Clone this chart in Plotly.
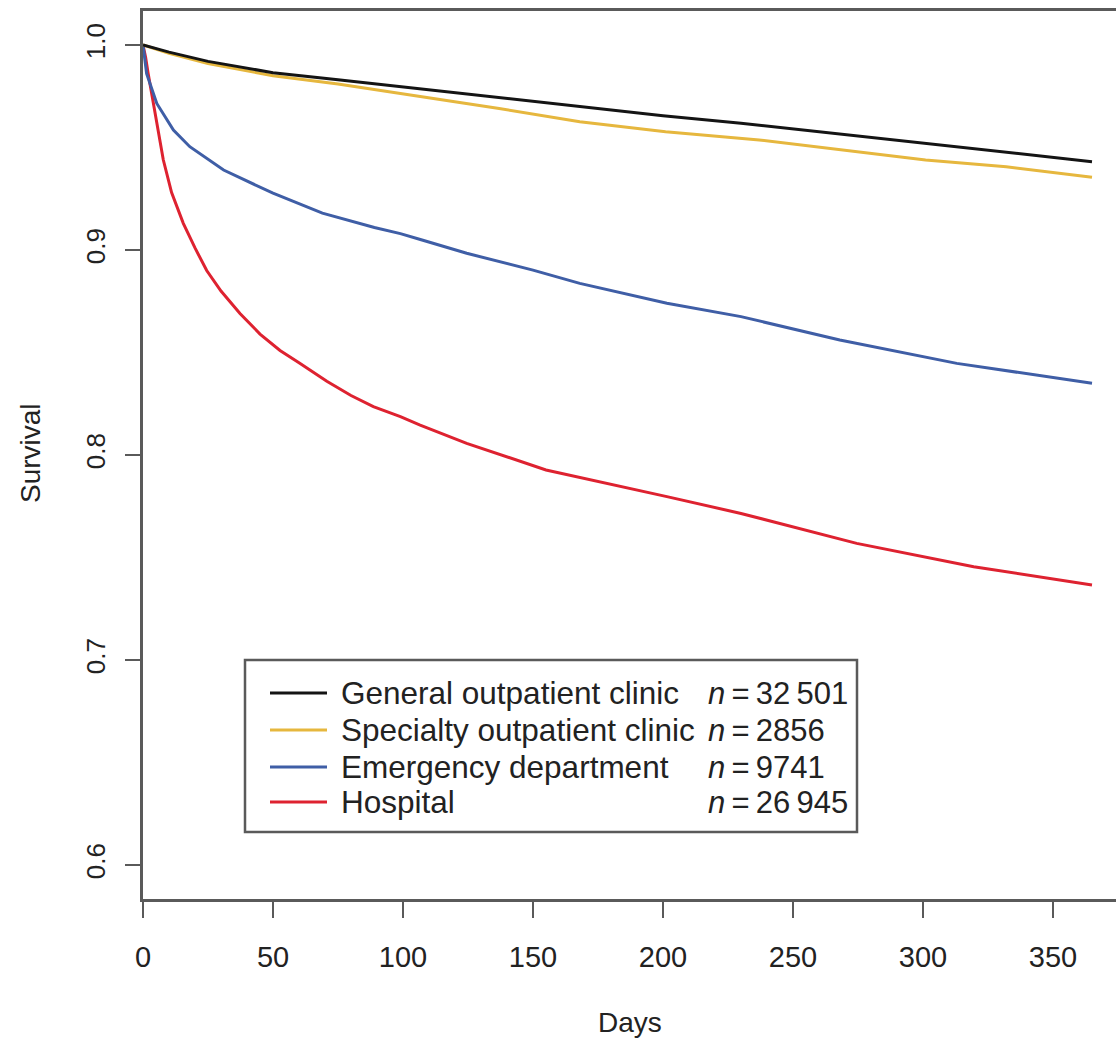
import plotly.graph_objects as go

# Kaplan-Meier style survival estimates by place of first contact
general_days = [0, 10, 25, 50, 75, 100, 130, 168, 200, 230, 265, 294, 330, 365]
general_surv = [1.0, 0.9965, 0.992, 0.9865, 0.983, 0.9795, 0.975, 0.970, 0.9655,
                0.9618, 0.957, 0.9528, 0.948, 0.9431]

specialty_days = [0, 10, 25, 50, 75, 99, 120, 137, 168, 185, 201, 237, 268, 301, 332, 365]
specialty_surv = [1.0, 0.996, 0.991, 0.985, 0.981, 0.9764, 0.9725, 0.969, 0.9626,
                  0.960, 0.9577, 0.9537, 0.9488, 0.9439, 0.9406, 0.9355]

emergency_days = [0, 1.4, 5.3, 11.7, 18, 31, 50, 69, 89, 99, 107, 124.5, 150, 168,
                  201.5, 230, 268, 313, 365]
emergency_surv = [1.0, 0.986, 0.9715, 0.9585, 0.9504, 0.939, 0.9277, 0.918, 0.911,
                  0.908, 0.905, 0.8984, 0.8902, 0.8837, 0.874, 0.8675, 0.8561, 0.8447,
                  0.835]

hospital_days = [0, 1, 2, 4, 7.8, 11, 15.5, 20, 24.5, 30, 37.3, 45, 52.7, 60, 70.7, 80,
                 88.6, 99, 106.6, 124.5, 155, 201.5, 230, 274.5, 319.5, 365]
hospital_surv = [1.0, 0.994, 0.986, 0.972, 0.944, 0.928, 0.913, 0.901, 0.890, 0.880,
                 0.869, 0.859, 0.851, 0.845, 0.836, 0.829, 0.8236, 0.8187, 0.8146,
                 0.8057, 0.7927, 0.7797, 0.7715, 0.7569, 0.7455, 0.7366]

series_names = ["General outpatient clinic", "Specialty outpatient clinic",
                "Emergency department", "Hospital"]
series_n = ["32\u2009501", "2856", "9741", "26\u2009945"]
series_colors = ["#141414", "#E6B73E", "#3F5EA6", "#DE2230"]

x_ticks = [0, 50, 100, 150, 200, 250, 300, 350]
y_ticks = [0.6, 0.7, 0.8, 0.9, 1.0]

FONT = "Liberation Sans, Arial, Helvetica, sans-serif"
TXT = "#222222"
AXIS = "#5a5a5a"

W, H = 1116, 1039
L, R, T, B = 143, 0, 11, 140
PW, PH = W - L - R, H - T - B


def px(xp):
    return (xp - L) / PW


def py(yp):
    return (H - B - yp) / PH


fig = go.Figure()
all_days = [general_days, specialty_days, emergency_days, hospital_days]
all_surv = [general_surv, specialty_surv, emergency_surv, hospital_surv]
# draw hospital first so the lighter curves stay on top where they meet
for i in [3, 2, 1, 0]:
    fig.add_trace(go.Scatter(
        x=all_days[i], y=all_surv[i], mode="lines", name=series_names[i],
        line=dict(color=series_colors[i], width=3), showlegend=False,
    ))

shapes = []
annotations = []

# legend box drawn by hand so the n= column lines up
shapes.append(dict(type="rect", xref="paper", yref="paper",
                   x0=px(245), x1=px(857), y0=py(832), y1=py(660),
                   line=dict(color=AXIS, width=2.5), fillcolor="white", layer="above"))
row_y = [693, 730, 767, 802]
for i in range(4):
    shapes.append(dict(type="line", xref="paper", yref="paper",
                       x0=px(270), x1=px(327), y0=py(row_y[i]), y1=py(row_y[i]),
                       line=dict(color=series_colors[i], width=3), layer="above"))
    annotations.append(dict(xref="paper", yref="paper", x=px(339), y=py(row_y[i]),
                            xanchor="left", yanchor="middle", showarrow=False,
                            text=series_names[i],
                            font=dict(family=FONT, size=31.5, color=TXT)))
    annotations.append(dict(xref="paper", yref="paper", x=px(706), y=py(row_y[i]),
                            xanchor="left", yanchor="middle", showarrow=False,
                            text="<i>n</i>\u2009=\u2009" + series_n[i],
                            font=dict(family=FONT, size=31, color=TXT)))

# axis titles
annotations.append(dict(xref="paper", yref="paper", x=px(630), y=py(1022),
                        xanchor="center", yanchor="middle", showarrow=False,
                        text="Days", font=dict(family=FONT, size=28, color=TXT)))
annotations.append(dict(xref="paper", yref="paper", x=px(30), y=py(453),
                        xanchor="center", yanchor="middle", showarrow=False,
                        textangle=-90, text="Survival",
                        font=dict(family=FONT, size=28, color=TXT)))

fig.update_layout(
    width=W, height=H,
    margin=dict(l=L, r=R, t=T, b=B, pad=0),
    paper_bgcolor="white", plot_bgcolor="white",
    shapes=shapes, annotations=annotations,
    xaxis=dict(range=[0, PW / 2.6], tickvals=x_ticks, ticktext=[str(v) for v in x_ticks],
               showgrid=False, zeroline=False, showline=True, mirror=True,
               linecolor=AXIS, linewidth=2.5, ticks="outside", ticklen=16,
               tickwidth=2, tickcolor=AXIS, ticklabelstandoff=14,
               tickfont=dict(family=FONT, size=29, color=TXT)),
    yaxis=dict(range=[1 - (H - B - 45) / 2050, 1 + (45 - T) / 2050],
               tickvals=y_ticks, ticktext=[f"{v:.1f}" for v in y_ticks],
               showgrid=False, zeroline=False, showline=True, mirror=False,
               linecolor=AXIS, linewidth=2.5, ticks="outside", ticklen=15,
               tickwidth=2, tickcolor=AXIS, tickangle=-90, ticklabelstandoff=10,
               tickfont=dict(family=FONT, size=26, color=TXT)),
)

fig.write_html("out.html")
